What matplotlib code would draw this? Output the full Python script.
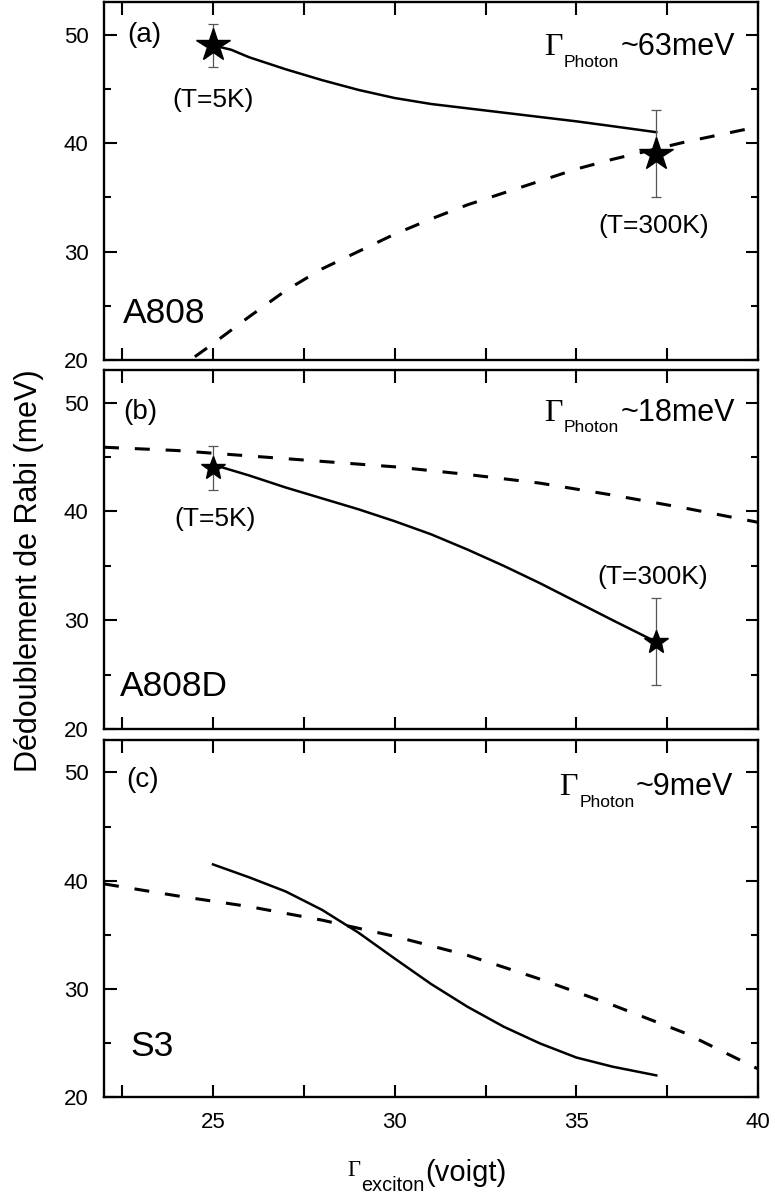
import matplotlib
matplotlib.use("Agg")
import matplotlib.pyplot as plt
from matplotlib.ticker import MultipleLocator

plt.rcParams['font.family'] = ['Liberation Sans', 'DejaVu Sans']

# Panel (a) A808, Gamma photon ~63 meV
a_fit_x = [25, 25.5, 26, 27, 28, 29, 30, 31, 32, 33, 34, 35, 36, 37.2]
a_fit_y = [49.0, 48.6, 47.9, 46.8, 45.8, 44.9, 44.15, 43.6, 43.2, 42.8, 42.4, 42.0, 41.55, 41.0]
a_dash_x = [24.5, 25, 26, 27, 28, 29, 30, 31, 32, 33, 34, 35, 36, 37, 38, 39, 40]
a_dash_y = [20.3, 21.5, 24.0, 26.4, 28.4, 30.0, 31.6, 33.0, 34.3, 35.4, 36.5, 37.6, 38.5, 39.3, 40.1, 40.8, 41.5]
a_pts_x = [25, 37.2]
a_pts_y = [49, 39]
a_pts_err = [2, 4]

# Panel (b) A808D, Gamma photon ~18 meV
b_fit_x = [25, 26, 27, 28, 29, 30, 31, 32, 33, 34, 35, 36, 37.2]
b_fit_y = [44.3, 43.3, 42.2, 41.2, 40.2, 39.1, 37.9, 36.5, 35.0, 33.4, 31.7, 30.0, 28.0]
b_dash_x = [22, 24, 26, 28, 30, 32, 34, 36, 38, 40]
b_dash_y = [45.9, 45.6, 45.1, 44.6, 44.1, 43.4, 42.6, 41.5, 40.3, 39.0]
b_pts_x = [25, 37.2]
b_pts_y = [44, 28]
b_pts_err = [2, 4]

# Panel (c) S3, Gamma photon ~9 meV
c_fit_x = [25, 26, 27, 28, 29, 30, 31, 32, 33, 34, 35, 36, 37.2]
c_fit_y = [41.5, 40.3, 39.0, 37.3, 35.2, 32.8, 30.45, 28.35, 26.5, 24.95, 23.65, 22.8, 22.0]
c_dash_x = [22, 24, 26, 28, 30, 32, 34, 36, 38, 40]
c_dash_y = [39.7, 38.6, 37.6, 36.35, 34.85, 33.1, 30.9, 28.5, 25.9, 22.6]

panel_tags = ['(a)', '(b)', '(c)']
sample_names = ['A808', 'A808D', 'S3']
photon_widths = ['~63meV', '~18meV', '~9meV']

fig = plt.figure(figsize=(7.75, 11.98), dpi=100)
W, H = 775, 1198

# axes boxes in pixels: (top, bottom)
boxes = [(2, 360), (370, 729), (740, 1097)]
axes = []
for top, bot in boxes:
    ax = fig.add_axes([104 / W, 1 - bot / H, 654 / W, (bot - top) / H])
    ax.set_xlim(22, 40)
    ax.set_ylim(20, 53)
    ax.xaxis.set_major_locator(MultipleLocator(5))
    ax.xaxis.set_minor_locator(MultipleLocator(2.5))
    ax.yaxis.set_major_locator(MultipleLocator(10))
    ax.yaxis.set_minor_locator(MultipleLocator(5))
    ax.tick_params(which='both', direction='in', top=True, right=True, width=1.5, labelsize=16, pad=11)
    ax.tick_params(axis='x', which='both', length=9)
    ax.tick_params(axis='y', which='major', length=9)
    ax.tick_params(axis='y', which='minor', length=5)
    for sp in ax.spines.values():
        sp.set_linewidth(1.7)
    if len(axes) < 2:
        ax.tick_params(axis='x', labelbottom=False)
    axes.append(ax)

ax_a, ax_b, ax_c = axes

dash_style = dict(color='black', lw=2.2, dashes=(4.9, 5.2))
fit_style = dict(color='black', lw=1.8)
err_style = dict(fmt='none', ecolor='#555555', elinewidth=0.9, capsize=3.6, capthick=0.9, zorder=3)

# (a)
ax_a.plot(a_dash_x, a_dash_y, **dash_style)
ax_a.plot(a_fit_x, a_fit_y, **fit_style)
ax_a.errorbar(a_pts_x, a_pts_y, yerr=a_pts_err, **err_style)
ax_a.plot(a_pts_x, a_pts_y, '*', color='black', ms=25, zorder=4)
ax_a.text(25.0, 43.3, '(T=5K)', ha='center', va='baseline', fontsize=19)
ax_a.text(37.14, 31.7, '(T=300K)', ha='center', va='baseline', fontsize=19)

# (b)
ax_b.plot(b_dash_x, b_dash_y, **dash_style)
ax_b.plot(b_fit_x, b_fit_y, **fit_style)
ax_b.errorbar(b_pts_x, b_pts_y, yerr=b_pts_err, **err_style)
ax_b.plot(b_pts_x, b_pts_y, '*', color='black', ms=18, zorder=4)
ax_b.text(25.07, 38.7, '(T=5K)', ha='center', va='baseline', fontsize=19)
ax_b.text(37.1, 33.3, '(T=300K)', ha='center', va='baseline', fontsize=19)

# (c)
ax_c.plot(c_dash_x, c_dash_y, **dash_style)
ax_c.plot(c_fit_x, c_fit_y, **fit_style)

# panel tags and sample names
tag_pos = [(0.035, 0.908), (0.029, 0.884), (0.034, 0.888)]
name_pos = [(0.029, 0.103), (0.0245, 0.092), (0.04, 0.115)]
for ax, tag, name, tp, npos in zip(axes, panel_tags, sample_names, tag_pos, name_pos):
    ax.text(tp[0], tp[1], tag, transform=ax.transAxes, ha='left', va='center', fontsize=20)
    ax.text(npos[0], npos[1], name, transform=ax.transAxes, ha='left', va='baseline', fontsize=25.5)

# Gamma_Photon labels (right edge, main baseline, subscript baseline)
gam_pos = [(0.965, 0.852, 0.819), (0.965, 0.858, 0.828), (0.962, 0.846, 0.811)]
for ax, txt, (gx, gy, gsub) in zip(axes, photon_widths, gam_pos):
    t3 = ax.text(gx, gy, txt, transform=ax.transAxes, ha='right', va='baseline', fontsize=22)
    t2 = ax.annotate('Photon', xy=(0, gsub), xycoords=(t3, 'axes fraction'),
                     xytext=(-1, 0), textcoords='offset points',
                     ha='right', va='baseline', fontsize=12.5)
    ax.annotate('Γ', xy=(0, gy), xycoords=(t2, 'axes fraction'),
                xytext=(-1, 0), textcoords='offset points',
                ha='right', va='baseline', fontsize=23, family='Liberation Serif')

# x label: Gamma_exciton(voigt)
g = ax_c.annotate('Γ', xy=(347 / W, 1 - 1176 / H), xycoords='figure fraction',
                  ha='left', va='baseline', fontsize=16.3, family='Liberation Serif')
s = ax_c.annotate('exciton', xy=(1, 1 - 1191 / H), xycoords=(g, 'figure fraction'),
                  xytext=(1, 0), textcoords='offset points',
                  ha='left', va='baseline', fontsize=14.3)
ax_c.annotate('(voigt)', xy=(1, 1 - 1181 / H), xycoords=(s, 'figure fraction'),
              ha='left', va='baseline', fontsize=21)

# y label
fig.text(29 / W, 1 - 571 / H, 'Dédoublement de Rabi (meV)', rotation=90,
         ha='center', va='center', fontsize=22)

fig.savefig('out.png', dpi=100)
